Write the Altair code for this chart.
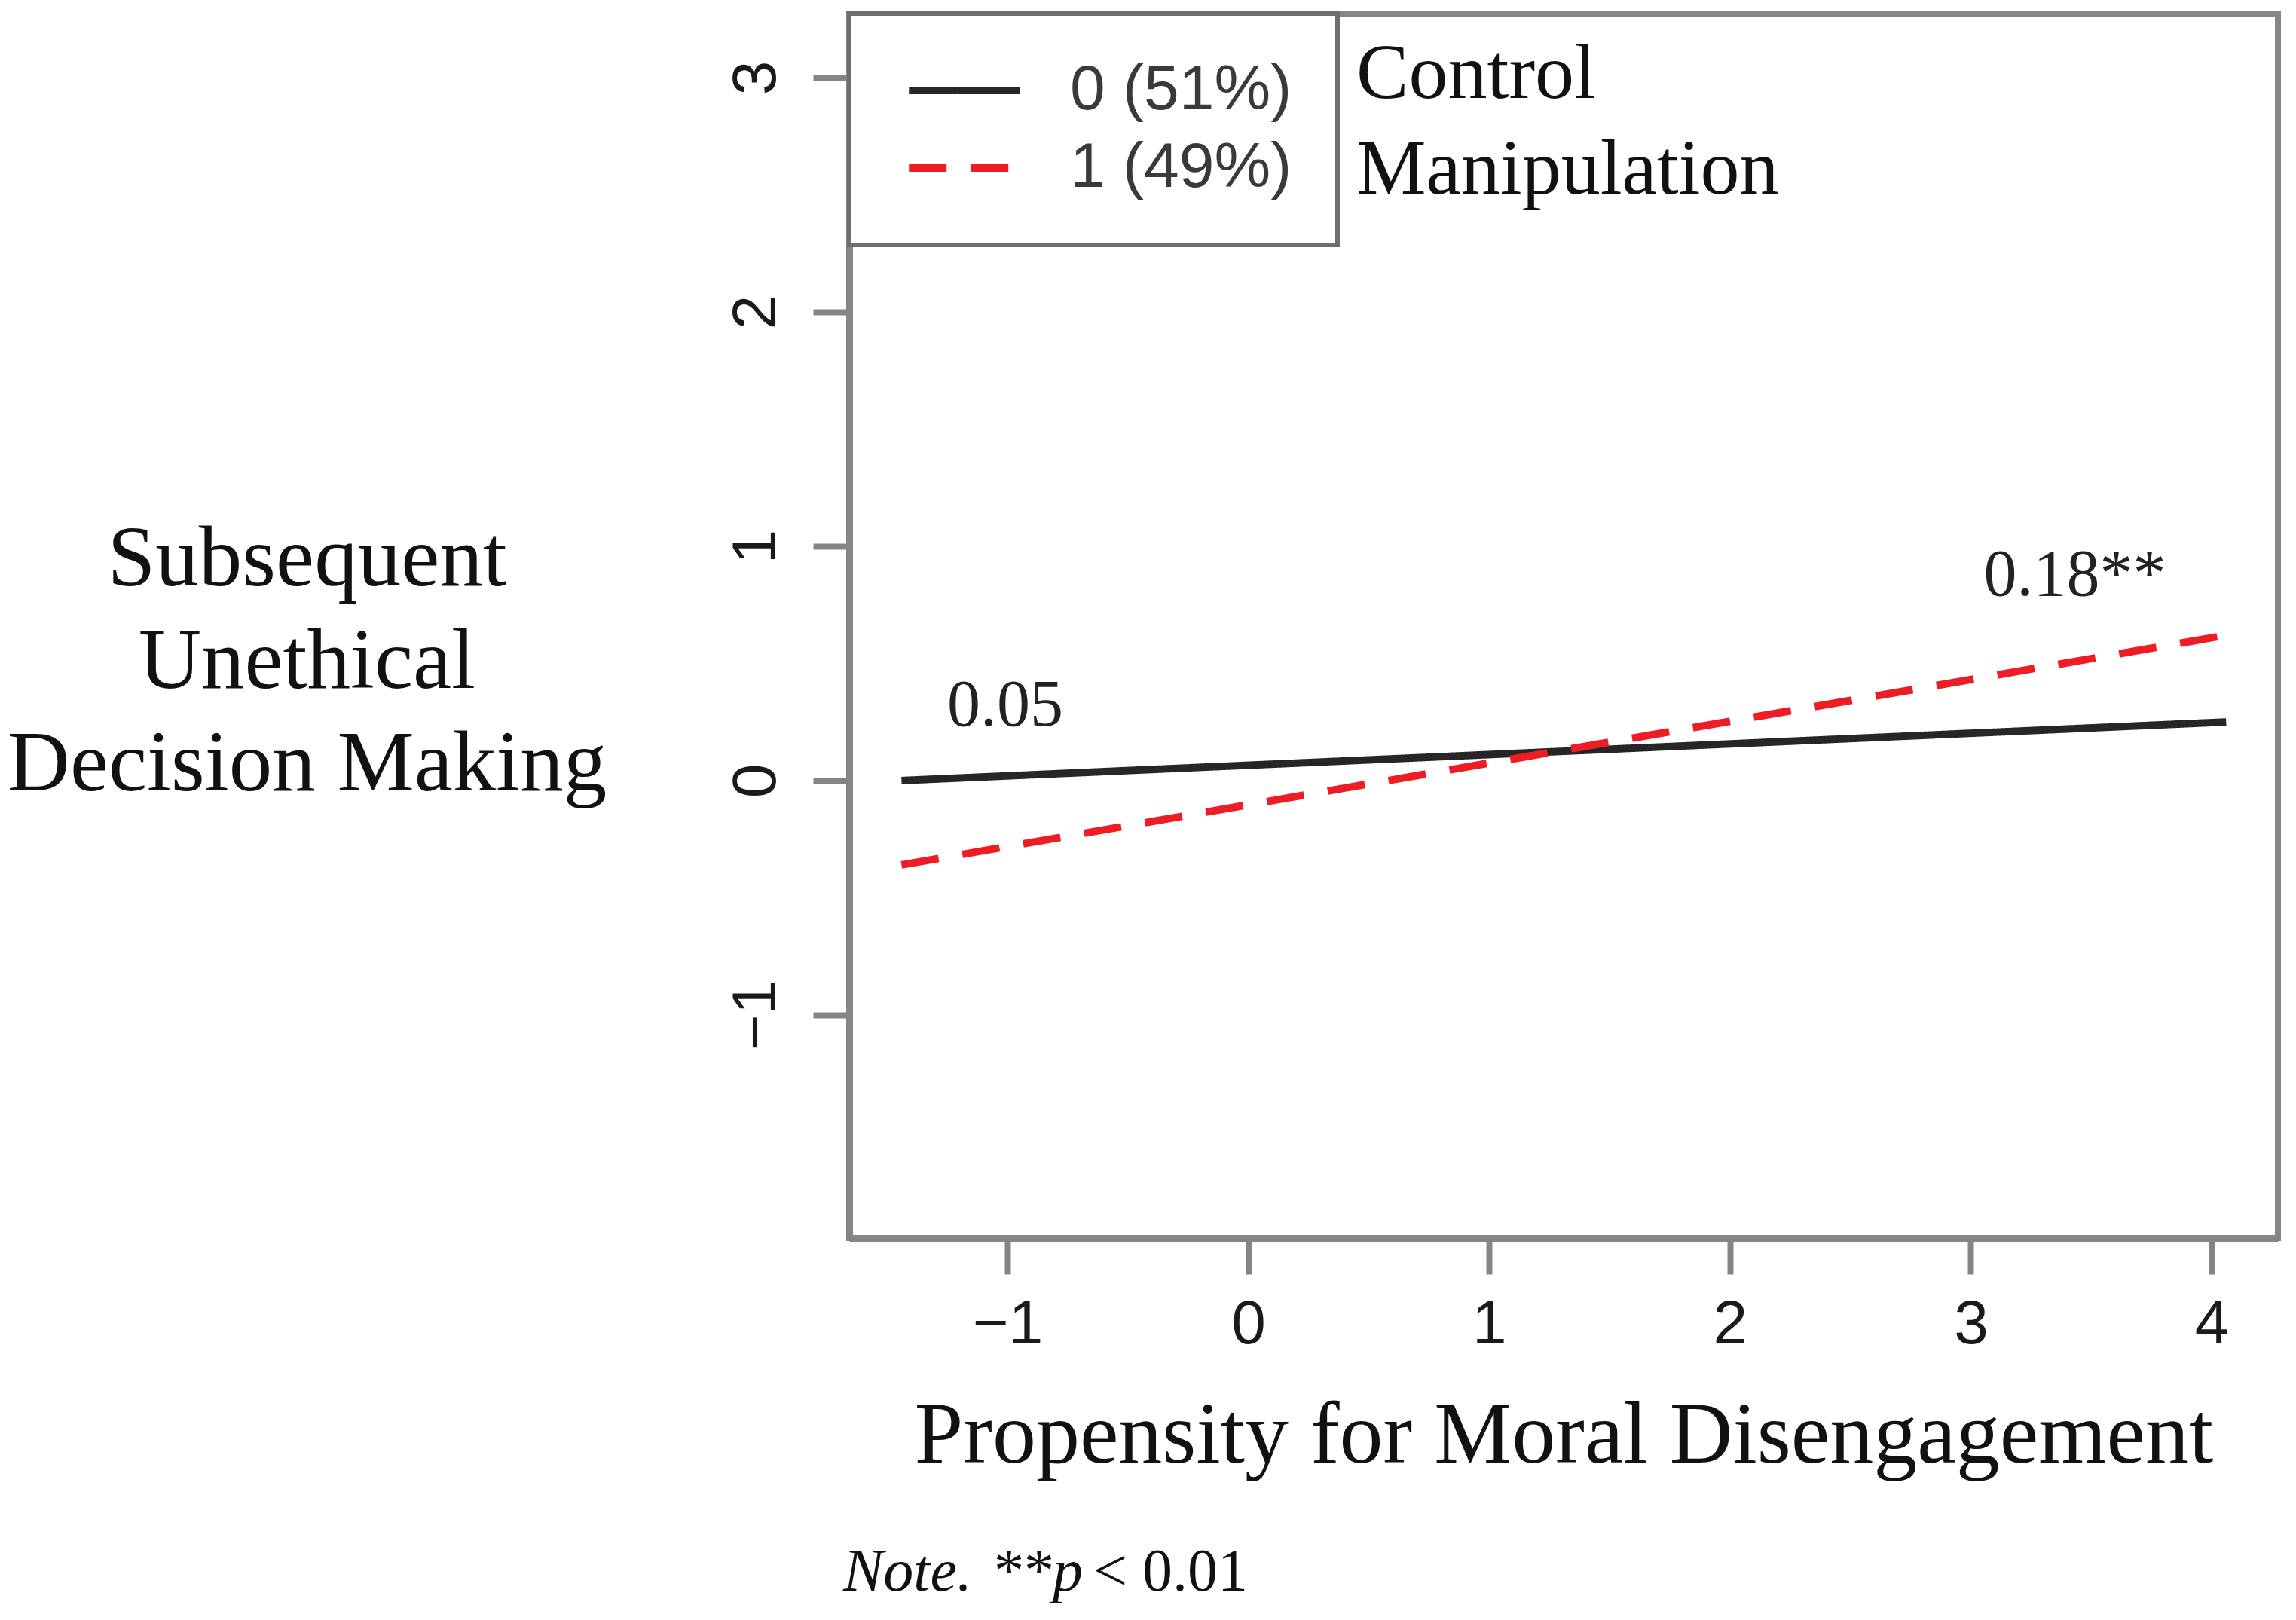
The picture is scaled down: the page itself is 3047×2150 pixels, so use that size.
import altair as alt
import pandas as pd

# ---- data ----
conditions = ["0 (51%)", "0 (51%)", "1 (49%)", "1 (49%)"]
disengagement = [-1.44, 4.06, -1.44, 4.06]
unethical = [0.00, 0.25, -0.36, 0.62]

group_labels = ["0 (51%)", "1 (49%)"]
group_colors = ["#262626", "#ee1d25"]
group_dashes = [[1, 0], [50, 32]]

x_ticks = [-1, 0, 1, 2, 3, 4]
y_ticks = [-1, 0, 1, 2, 3]
x_domain = [-1.657, 4.275]
y_domain = [-1.952, 3.273]

slope_labels = ["0.05", "0.18**"]
slope_x = [-1.25, 3.053]
slope_y = [0.235, 0.791]

cond_names = ["Control", "Manipulation"]
cond_x = [0.449, 0.449]
cond_y = [2.913, 2.505]

x_title = "Propensity for Moral Disengagement"
y_title = ["Subsequent", "Unethical", "Decision Making"]

# ---- styling ----
FRAME = "#858585"
SERIF = "Liberation Serif"
SANS = "Liberation Sans"

lines_df = pd.DataFrame({"x": disengagement, "y": unethical, "group": conditions})
slope_df = pd.DataFrame({"x": slope_x, "y": slope_y, "label": slope_labels})
cond_df = pd.DataFrame({"x": cond_x, "y": cond_y, "label": cond_names})
one = pd.DataFrame({"k": [0]})

x_scale = alt.Scale(domain=x_domain, nice=False, zero=False)
y_scale = alt.Scale(domain=y_domain, nice=False, zero=False)

x_axis = alt.Axis(
    values=x_ticks, title=x_title, grid=False,
    domain=True, domainColor=FRAME, domainWidth=9,
    ticks=True, tickSize=48, tickWidth=8, tickColor=FRAME,
    labelFont=SANS, labelFontSize=82, labelColor="#1a1a1a", labelPadding=26,
    labelFlush=False, labelOverlap=False, labelAlign="center", labelBaseline="top",
    titleFont=SERIF, titleFontSize=116, titleFontWeight="normal", titleColor="#111111",
    titleX=948, titleY=297, titleAlign="center", titleBaseline="alphabetic",
)
y_axis = alt.Axis(
    values=y_ticks, title=y_title, grid=False,
    domain=True, domainColor=FRAME, domainWidth=9,
    ticks=True, tickSize=48, tickWidth=8, tickColor=FRAME,
    labelFont=SANS, labelFontSize=82, labelColor="#1a1a1a", labelPadding=51,
    labelAngle=270, labelAlign="center", labelBaseline="alphabetic",
    labelFlush=False, labelOverlap=False,
    titleFont=SERIF, titleFontSize=115, titleFontWeight="normal", titleColor="#111111",
    titleAngle=0, titleX=-720, titleY=758, titleAlign="center",
    titleBaseline="alphabetic", titleLineHeight=136,
)

legend = alt.Legend(
    title=None, orient="none", legendX=0, legendY=0,
    symbolType="M-1,0H9", symbolSize=870, symbolStrokeWidth=10, symbolOffset=-8,
    labelFont=SANS, labelFontSize=84, labelColor="#3a3a3a", labelOffset=157,
    labelLimit=2000, padding=60, rowPadding=19,
    strokeColor="#6e6e6e", fillColor="white",
)

X = alt.X("x:Q", scale=x_scale, axis=x_axis)
Y = alt.Y("y:Q", scale=y_scale, axis=y_axis)

lines = alt.Chart(lines_df).mark_line(strokeWidth=10, strokeCap="butt").encode(
    x=X, y=Y,
    color=alt.Color("group:N", scale=alt.Scale(domain=group_labels, range=group_colors), legend=legend),
    strokeDash=alt.StrokeDash("group:N", scale=alt.Scale(domain=group_labels, range=group_dashes), legend=legend),
    detail="group:N",
)

slopes = alt.Chart(slope_df).mark_text(
    font=SERIF, fontSize=88, color="#222222", align="left", baseline="alphabetic"
).encode(x=X, y=Y, text="label:N")

conds = alt.Chart(cond_df).mark_text(
    font=SERIF, fontSize=104, color="#111111", align="left", baseline="alphabetic"
).encode(x=X, y=Y, text="label:N")

def note_piece(txt, xpos, style):
    return alt.Chart(one).mark_text(
        font=SERIF, fontSize=80, fontStyle=style, color="#111111",
        align="left", baseline="alphabetic", text=txt
    ).encode(x=alt.value(xpos), y=alt.value(2093))

note = (note_piece("Note.", -8, "italic") + note_piece("**", 192, "normal")
        + note_piece("p", 270, "italic") + note_piece("< 0.01", 324, "normal"))

chart = alt.layer(lines, slopes, conds, note).properties(
    width=1896, height=1625,
    padding={"left": 1119, "top": 10, "right": 10, "bottom": 490},
    autosize=alt.AutoSizeParams(type="none"),
    background="white",
).configure_view(
    stroke=FRAME, strokeWidth=8
).configure_legend(
    strokeWidth=6
)

chart.save("out.html", embed_options={"renderer": "svg", "actions": False})
